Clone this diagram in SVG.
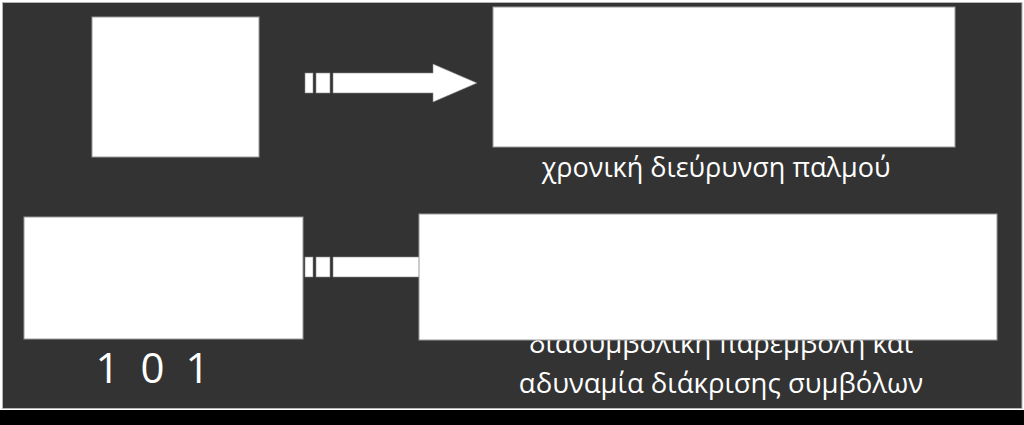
<svg xmlns="http://www.w3.org/2000/svg" width="1024" height="425" viewBox="0 0 1024 425">
  <style>
    .box { fill: #ffffff; stroke: #9a9a9a; stroke-width: 1; }
    .arrow { fill: #ffffff; stroke: #8a8a8a; stroke-width: 0.6; }
    .lbl { font-family: "Open Sans", "Noto Sans", "DejaVu Sans", sans-serif; fill: #ffffff; text-anchor: middle; }
  </style>
  <rect x="0" y="0" width="1024" height="425" fill="#ffffff"/>
  <rect x="2.5" y="2.5" width="1019.5" height="406" fill="#333333" stroke="#b5b5b5" stroke-width="1"/>
  <rect x="0" y="410" width="1024" height="15" fill="#000000"/>

  <g id="labels-under">
    <text class="lbl" x="721" y="353" font-size="27.5">διασυμβολική παρεμβολή και</text>
  </g>

  <g id="connectors">
    <g id="arrow-top">
      <rect class="arrow" x="305" y="73" width="8" height="20"/>
      <rect class="arrow" x="316" y="73" width="14" height="20"/>
      <polygon class="arrow" points="333,73 433,73 433,64 477,83 433,102 433,93 333,93"/>
    </g>
    <g id="arrow-bottom">
      <rect class="arrow" x="305" y="257" width="8" height="20"/>
      <rect class="arrow" x="316" y="257" width="14" height="20"/>
      <polygon class="arrow" points="333,257 433,257 433,248 477,267 433,286 433,277 333,277"/>
    </g>
  </g>

  <g id="node-a">
    <rect class="box" x="92" y="17" width="167" height="140"/>
  </g>
  <g id="node-b">
    <rect class="box" x="493" y="7" width="462" height="140"/>
    <text class="lbl" x="716" y="177" font-size="27">χρονική διεύρυνση παλμού</text>
  </g>
  <g id="node-c">
    <rect class="box" x="24" y="217" width="279" height="122"/>
    <text class="lbl" x="155" y="383" font-size="42" letter-spacing="5">1 0 1</text>
  </g>
  <g id="node-d">
    <rect class="box" x="419" y="214" width="578" height="126"/>
    <text class="lbl" x="721" y="393" font-size="27.5">αδυναμία διάκρισης συμβόλων</text>
  </g>
</svg>
